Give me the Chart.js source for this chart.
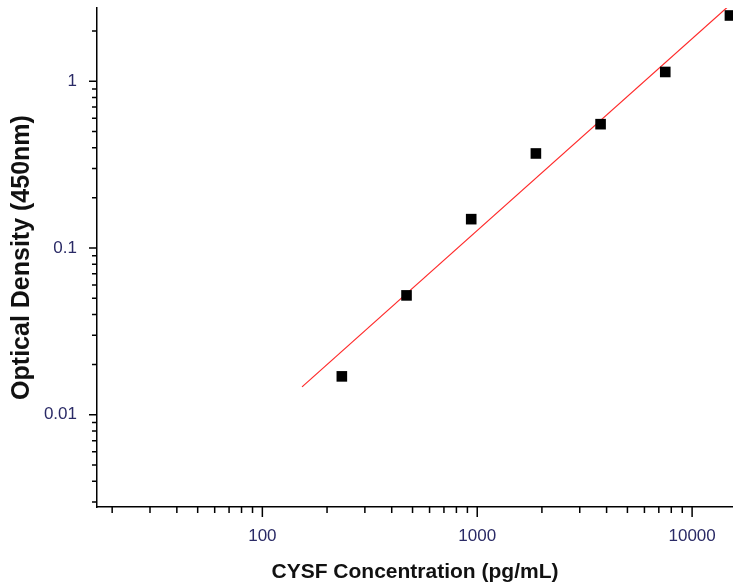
<!DOCTYPE html>
<html>
<head>
<meta charset="utf-8">
<script src="https://cdn.jsdelivr.net/npm/chart.js@4"></script>
<style>
  body { margin: 0; background: #fff; }
  #wrap { width: 733px; height: 585px; }
</style>
</head>
<body>
<div id="wrap"><canvas id="odChart"></canvas></div>
<script>
// Standard curve points (pg/mL vs OD at 450nm)
const concentrations = [234.375, 468.75, 937.5, 1875, 3750, 7500, 15000];
const opticalDensity = [0.017, 0.052, 0.149, 0.369, 0.553, 1.137, 2.48];

// Fitted line, two ends
const fitX = [153, 15000];
const fitY = [0.0147, 2.87];

// Tick positions on both log axes
const xTicks = [20, 30, 40, 50, 60, 70, 80, 90, 100, 200, 300, 400, 500, 600, 700, 800, 900,
                1000, 2000, 3000, 4000, 5000, 6000, 7000, 8000, 9000, 10000];
const xMajor = [100, 1000, 10000];
const yTicks = [0.003, 0.004, 0.005, 0.006, 0.007, 0.008, 0.009, 0.01,
                0.02, 0.03, 0.04, 0.05, 0.06, 0.07, 0.08, 0.09, 0.1,
                0.2, 0.3, 0.4, 0.5, 0.6, 0.7, 0.8, 0.9, 1, 2];
const yMajor = [0.01, 0.1, 1];

// draws the outward ticks, long for decades and short in between
const tickMarks = {
    id: 'tickMarks',
    afterDraw(chart) {
        const ctx = chart.ctx;
        const xs = chart.scales.x, ys = chart.scales.y;
        ctx.save();
        ctx.strokeStyle = '#000';
        ctx.lineWidth = 1.5;
        ctx.beginPath();
        xTicks.forEach(v => {
            const px = xs.getPixelForValue(v);
            const len = xMajor.includes(v) ? 10 : 6;
            ctx.moveTo(px, xs.top);
            ctx.lineTo(px, xs.top + len);
        });
        yTicks.forEach(v => {
            const py = ys.getPixelForValue(v);
            const len = yMajor.includes(v) ? 8 : 5;
            ctx.moveTo(ys.right, py);
            ctx.lineTo(ys.right - len, py);
        });
        ctx.stroke();
        ctx.restore();
    }
};

const ctx = document.getElementById('odChart').getContext('2d');
new Chart(ctx, {
    type: 'scatter',
    data: {
        datasets: [{
            label: 'Fit',
            data: fitX.map((x, i) => ({ x: x, y: fitY[i] })),
            showLine: true,
            borderColor: '#ff2a2a',
            borderWidth: 1.2,
            pointRadius: 0,
            order: 2
        }, {
            label: 'Standard',
            data: concentrations.map((x, i) => ({ x: x, y: opticalDensity[i] })),
            pointStyle: 'rect',
            pointRadius: 7.5,
            backgroundColor: '#000',
            borderColor: '#000',
            borderWidth: 0,
            order: 1
        }]
    },
    options: {
        responsive: true,
        maintainAspectRatio: false,
        animation: false,
        layout: { autoPadding: false, padding: { top: 8, right: 0, bottom: 0, left: 0 } },
        plugins: {
            legend: { display: false },
            tooltip: { enabled: false }
        },
        scales: {
            x: {
                type: 'logarithmic',
                min: 17,
                max: 15500,
                afterBuildTicks: s => { s.ticks = xTicks.map(v => ({ value: v })); },
                afterFit: s => {
                    s.height = 78;
                    s.paddingLeft = 0;
                    s.paddingRight = 0;
                },
                grid: { display: false, drawTicks: false },
                border: { display: true, color: '#000', width: 1.5 },
                ticks: {
                    autoSkip: false,
                    maxRotation: 0,
                    padding: 19,
                    color: '#2a2a66',
                    font: { family: 'Liberation Sans, Arial, sans-serif', size: 17 },
                    callback: v => xMajor.includes(v) ? String(v) : ''
                },
                title: {
                    display: true,
                    text: 'CYSF Concentration (pg/mL)',
                    color: '#111',
                    padding: { top: 0, bottom: 0 },
                    font: { family: 'Liberation Sans, Arial, sans-serif', size: 21, weight: 'bold', lineHeight: 1.2 }
                }
            },
            y: {
                type: 'logarithmic',
                min: 0.0028,
                max: 2.75,
                afterBuildTicks: s => { s.ticks = yTicks.map(v => ({ value: v })); },
                afterFit: s => {
                    s.width = 97;
                    s.paddingTop = 0;
                    s.paddingBottom = 0;
                },
                grid: { display: false, drawTicks: false },
                border: { display: true, color: '#000', width: 1.5 },
                ticks: {
                    autoSkip: false,
                    padding: 20,
                    color: '#2a2a66',
                    font: { family: 'Liberation Sans, Arial, sans-serif', size: 17 },
                    callback: v => yMajor.includes(v) ? String(v) : ''
                },
                title: {
                    display: true,
                    text: 'Optical Density (450nm)',
                    color: '#111',
                    padding: { top: 7, bottom: 0 },
                    font: { family: 'Liberation Sans, Arial, sans-serif', size: 25, weight: 'bold', lineHeight: 1.2 }
                }
            }
        }
    },
    plugins: [tickMarks]
});
</script>
</body>
</html>
